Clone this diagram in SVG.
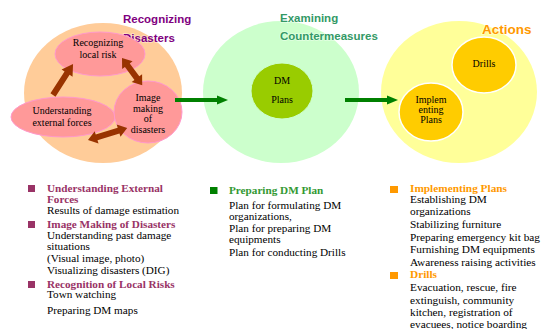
<svg xmlns="http://www.w3.org/2000/svg" width="547" height="329" viewBox="0 0 547 329">
<defs>
<style>
.serif{font-family:"Liberation Serif","Times New Roman",serif;fill:#000}
.node{font-size:10px;text-anchor:middle}
.title{font-family:"Liberation Sans",Arial,sans-serif;font-weight:bold;paint-order:stroke;stroke:#ffffff;stroke-opacity:0.45;stroke-width:1.6}
.pink{fill:#FF9999;stroke:#FF99CC;stroke-width:1}
.gold{fill:#FFCC00;stroke:#ffffff;stroke-width:1.5}
.list{font-size:11.2px}
.list2{font-size:11.3px}
.h{font-weight:bold}
.brown{fill:#993300}
.green{stroke:#008000;stroke-width:4;fill:none}
</style>
</defs>
<rect width="547" height="329" fill="#ffffff"/>

<g id="stage-recognizing">
<ellipse cx="103" cy="93" rx="79" ry="70" fill="#FFCC99"/>
<text class="title" x="123" y="23" font-size="11.5" fill="#800080">Recognizing</text>
<text class="title" x="123" y="42" font-size="11.5" fill="#800080">Disasters</text>
</g>
<g id="node-local-risk">
<ellipse class="pink" cx="100" cy="54" rx="45" ry="22"/>
<text class="serif node" x="98" y="46" font-size="9.5">Recognizing</text>
<text class="serif node" x="98" y="57.5" font-size="9.5">local risk</text>
</g>
<g id="node-external-forces">
<ellipse class="pink" cx="63" cy="117" rx="52" ry="20"/>
<text class="serif node" x="62" y="114">Understanding</text>
<text class="serif node" x="62" y="125.5">external forces</text>
</g>
<g id="node-image-making">
<ellipse class="pink" cx="148" cy="112" rx="34" ry="31"/>
<text class="serif node" x="148" y="100.5">Image</text>
<text class="serif node" x="148" y="111.5">making</text>
<text class="serif node" x="148" y="122">of</text>
<text class="serif node" x="148" y="132.5">disasters</text>
</g>

<g id="stage-examining">
<ellipse cx="281" cy="92" rx="78" ry="71" fill="#CCFFCC"/>
<text class="title" x="280" y="22" font-size="11.5" fill="#339966">Examining</text>
<text class="title" x="280" y="40" font-size="11.5" fill="#339966">Countermeasures</text>
</g>
<g id="node-dm-plans">
<ellipse cx="282" cy="91" rx="31" ry="28" fill="#99CC00" stroke="#CCFFCC" stroke-width="1"/>
<text class="serif node" x="282" y="84" font-size="10.8">DM</text>
<text class="serif node" x="282" y="103" font-size="10.8">Plans</text>
</g>

<g id="stage-actions">
<ellipse cx="459" cy="92" rx="78" ry="71" fill="#FFFF99"/>
<text class="title" x="482" y="34" font-size="13.5" fill="#FF9900">Actions</text>
</g>
<g id="node-drills">
<ellipse class="gold" cx="484" cy="65" rx="32" ry="28"/>
<text class="serif node" x="484" y="66.5" font-size="10.5">Drills</text>
</g>
<g id="node-implementing">
<ellipse class="gold" cx="431" cy="112" rx="32" ry="29"/>
<text class="serif node" x="431" y="102.5" font-size="10.3">Implem</text>
<text class="serif node" x="431" y="113" font-size="10.3">enting</text>
<text class="serif node" x="431" y="123" font-size="10.3">Plans</text>
</g>

<g id="connectors">
<g transform="translate(53,95) rotate(-57.2)">
<polygon class="brown" points="0,-3 26,-3 26,-6.5 37,0 26,6.5 26,3 0,3"/>
</g>
<g transform="translate(122,58) rotate(53.5)">
<polygon class="brown" points="0,0 9,-6.5 9,-3 25,-3 25,-6.5 34,0 25,6.5 25,3 9,3 9,6.5"/>
</g>
<g transform="translate(88,140) rotate(-17.1)">
<polygon class="brown" points="0,0 9,-6.5 9,-3 32,-3 32,-6.5 41,0 32,6.5 32,3 9,3 9,6.5"/>
</g>
<line class="green" x1="175" y1="100" x2="219" y2="100"/>
<polygon fill="#008000" points="217,95.5 228,100 217,104.5"/>
<line class="green" x1="345" y1="100" x2="389" y2="100"/>
<polygon fill="#008000" points="387,95.5 398,100 387,104.5"/>
</g>

<g id="list-recognizing">
<rect x="28" y="185" width="7" height="7" fill="#993366"/>
<rect x="28" y="221" width="7" height="7" fill="#993366"/>
<rect x="28" y="281" width="7" height="7" fill="#993366"/>
<text class="serif list h" x="47" y="191.5" style="fill:#993366">Understanding External</text>
<text class="serif list h" x="47" y="202.5" style="fill:#993366">Forces</text>
<text class="serif list" x="47" y="213.5">Results of damage estimation</text>
<text class="serif list h" x="47" y="227.5" style="fill:#993366">Image Making of Disasters</text>
<text class="serif list" x="47" y="239">Understanding past damage</text>
<text class="serif list" x="47" y="250">situations</text>
<text class="serif list" x="47" y="262">(Visual image, photo)</text>
<text class="serif list" x="47" y="274">Visualizing disasters (DIG)</text>
<text class="serif list h" x="47" y="287.5" style="fill:#993366">Recognition of Local Risks</text>
<text class="serif list" x="47" y="298">Town watching</text>
<text class="serif list" x="47" y="314">Preparing DM maps</text>
</g>

<g id="list-examining">
<rect x="210" y="187" width="7.5" height="7" fill="#008000"/>
<text class="serif list h" x="229" y="194" style="fill:#339933">Preparing DM Plan</text>
<text class="serif list" x="229" y="209">Plan for formulating DM</text>
<text class="serif list" x="229" y="220">organizations,</text>
<text class="serif list" x="229" y="232">Plan for preparing DM</text>
<text class="serif list" x="229" y="243">equipments</text>
<text class="serif list" x="229" y="256">Plan for conducting Drills</text>
</g>

<g id="list-actions">
<rect x="390" y="186" width="8" height="7" fill="#FF9900"/>
<rect x="390" y="272" width="8" height="7" fill="#FF9900"/>
<text class="serif list2 h" x="410" y="192" style="fill:#FF9900">Implementing Plans</text>
<text class="serif list2" x="410" y="203">Establishing DM</text>
<text class="serif list2" x="410" y="215">organizations</text>
<text class="serif list2" x="410" y="228">Stabilizing furniture</text>
<text class="serif list2" x="410" y="241">Preparing emergency kit bag</text>
<text class="serif list2" x="410" y="253">Furnishing DM equipments</text>
<text class="serif list2" x="410" y="266">Awareness raising activities</text>
<text class="serif list2 h" x="410" y="278" style="fill:#FF9900">Drills</text>
<text class="serif list2" x="410" y="291">Evacuation, rescue, fire</text>
<text class="serif list2" x="410" y="304">extinguish, community</text>
<text class="serif list2" x="410" y="316">kitchen, registration of</text>
<text class="serif list2" x="410" y="328">evacuees, notice boarding</text>
</g>
</svg>
